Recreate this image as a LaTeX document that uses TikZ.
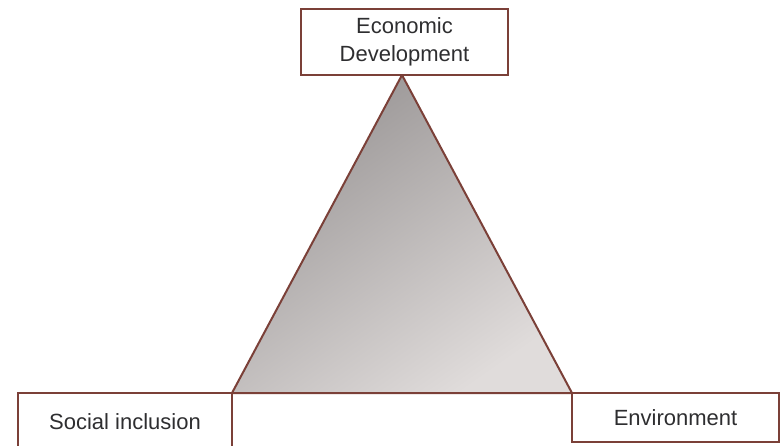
\documentclass[tikz,border=0pt]{standalone}
\usepackage{fontspec}
\setmainfont{Liberation Sans}
\begin{document}
\begin{tikzpicture}[x=1pt,y=-1pt,
  brd/.style={draw=edgec,line width=2pt},
  lbl/.style={font=\fontsize{22}{27}\selectfont,text=txtc,align=center}]
\definecolor{edgec}{HTML}{7B4038}
\definecolor{txtc}{HTML}{2E2E30}
\definecolor{shA}{HTML}{989494}
\definecolor{shB}{HTML}{E0DCDB}
\useasboundingbox (0,0) rectangle (784,445);
\coordinate (apex) at (402,75);
\coordinate (bl) at (232,393);
\coordinate (br) at (572,393);
\shade[top color=shA,bottom color=shB,shading angle=35] (apex) -- (bl) -- (br) -- cycle;
\draw[brd,line join=round] (apex) -- (bl) -- (br) -- cycle;
\draw[brd] (301,9) rectangle (508,75);
\node[lbl] (eco) at (404.5,42) {Economic\\[1pt]Development};
\draw[brd] (18,460) -- (18,393) -- (232,393) -- (232,460);
\node[lbl] (soc) at (125,422) {Social inclusion};
\draw[brd] (572,393) rectangle (779,442);
\node[lbl] (env) at (675.5,418) {Environment};
\end{tikzpicture}
\end{document}
